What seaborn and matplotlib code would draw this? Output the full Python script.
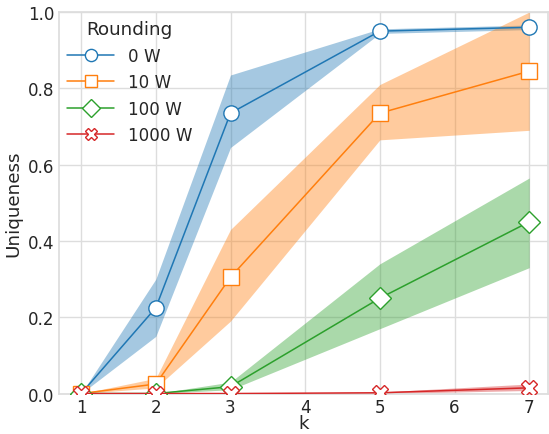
import pandas as pd
import matplotlib
matplotlib.use("Agg")
import matplotlib.pyplot as plt
import seaborn as sns
import numpy as np

k = [1, 2, 3, 5, 7]
labels = ['0 W', '10 W', '100 W', '1000 W']
markers = ['o', 's', 'D', 'X']

mean_0 = [0.0, 0.225, 0.735, 0.950, 0.960]
lo_0 = [0.0, 0.150, 0.645, 0.944, 0.954]
hi_0 = [0.0, 0.300, 0.835, 0.956, 0.966]

mean_10 = [0.0, 0.025, 0.305, 0.735, 0.845]
lo_10 = [0.0, 0.015, 0.190, 0.665, 0.690]
hi_10 = [0.0, 0.040, 0.430, 0.810, 1.000]

mean_100 = [0.0, 0.0, 0.018, 0.250, 0.450]
lo_100 = [0.0, 0.0, 0.010, 0.170, 0.330]
hi_100 = [0.0, 0.0, 0.030, 0.340, 0.565]

mean_1000 = [0.0, 0.0, 0.0, 0.002, 0.015]
lo_1000 = [0.0, 0.0, 0.0, 0.0, 0.008]
hi_1000 = [0.0, 0.0, 0.0, 0.004, 0.025]

means = [mean_0, mean_10, mean_100, mean_1000]
los = [lo_0, lo_10, lo_100, lo_1000]
his = [hi_0, hi_10, hi_100, hi_1000]

sns.set_theme(style='whitegrid', font_scale=1.1,
              rc={'grid.color': '#dddddd', 'axes.edgecolor': '#dddddd'})
plt.rcParams['font.family'] = ['DejaVu Sans']
colors = sns.color_palette('tab10', 4)

fig = plt.figure(figsize=(5.49, 4.35), dpi=100)
ax = fig.add_axes([0.107, 0.093, 0.891, 0.877])
for i, lab in enumerate(labels):
    df = pd.DataFrame({'k': k, 'u': means[i]})
    sns.lineplot(data=df, x='k', y='u', ax=ax, color=colors[i], marker=markers[i],
                 markersize=11, markerfacecolor='white', markeredgecolor=colors[i],
                 markeredgewidth=1.0, linewidth=1.1, label=lab, zorder=3 + i)
    ax.fill_between(k, los[i], his[i], color=colors[i], alpha=0.4, linewidth=0, zorder=2)

ax.set_xlim(0.7, 7.25)
ax.set_ylim(0, 1.0)
ax.set_xticks(range(1, 8))
ax.set_xlabel('k', labelpad=-1)
ax.set_ylabel('Uniqueness')
ax.tick_params(axis='both', length=0, pad=3)
leg = ax.legend(title='Rounding', frameon=False, loc='upper left',
                handlelength=2.8, markerscale=0.8, borderaxespad=0.1)
fig.savefig('out.png')
